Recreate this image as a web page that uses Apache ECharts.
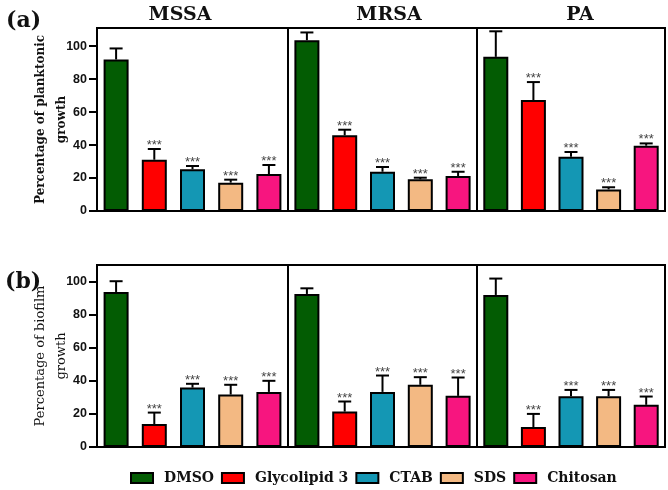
<!DOCTYPE html>
<html>
<head>
<meta charset="utf-8">
<script src="https://cdn.jsdelivr.net/npm/echarts@6/dist/echarts.min.js"></script>
<style>html,body{margin:0;padding:0;background:#fff}#main{width:668px;height:490px}</style>
</head>
<body>
<div id="main"></div>
<script>
// strains (one panel each) and treatments (one bar each)
const groups = ['MSSA', 'MRSA', 'PA'];
const treatments = ['DMSO', 'Glycolipid 3', 'CTAB', 'SDS', 'Chitosan'];
const colors = ['#035c03', '#ff0000', '#1497b4', '#f3b983', '#f7157f'];
const stars = ['', '***', '***', '***', '***'];
const yTicks = [0, 20, 40, 60, 80, 100];

// (a) planktonic growth, mean and SD per strain
const planktonicMean = [[91.9, 31.1, 25.3, 17.2, 22.4], [103.6, 45.9, 23.8, 19.2, 21.2], [93.5, 67.3, 32.9, 13.1, 39.6]];
const planktonicErr = [[6.7, 6.5, 2.0, 1.8, 5.5], [4.7, 3.4, 2.9, 1.0, 2.6], [15.5, 10.9, 2.9, 1.3, 1.4]];
// (b) biofilm growth
const biofilmMean = [[93.7, 13.9, 35.9, 31.7, 33.3], [92.5, 21.4, 33.3, 37.6, 30.9], [91.9, 12.1, 30.7, 30.7, 25.5]];
const biofilmErr = [[6.5, 6.9, 2.3, 5.9, 6.7], [3.4, 6.1, 9.9, 4.6, 11.1], [9.9, 7.9, 3.8, 3.8, 5.0]];

const rows = [
  { mean: planktonicMean, err: planktonicErr, name: 'Percentage of planktonic\ngrowth', bold: true, size: 12, top: 28, height: 183, max: 111 },
  { mean: biofilmMean, err: biofilmErr, name: 'Percentage of biofilm\ngrowth', bold: false, size: 13, top: 265, height: 182, max: 110 }
];
const lefts = [97, 288, 477];
const widths = [191, 189, 188];

const chart = echarts.init(document.getElementById('main'));

let grid = [], xAxis = [], yAxis = [], series = [];

rows.forEach((row, r) => {
  groups.forEach((g, c) => {
    const idx = r * 3 + c;
    grid.push({
      left: lefts[c], top: row.top, width: widths[c], height: row.height,
      show: true, borderColor: '#000', borderWidth: 2, backgroundColor: 'transparent'
    });
    xAxis.push({
      type: 'category', gridIndex: idx, data: treatments,
      axisLabel: { show: false }, axisTick: { show: false }, axisLine: { show: false }
    });
    const first = c === 0;
    yAxis.push({
      type: 'value', gridIndex: idx, min: 0, max: row.max, interval: 20,
      splitLine: { show: false },
      axisLine: { show: first, lineStyle: { color: '#000', width: 2 } },
      axisTick: { show: first, length: 8, lineStyle: { color: '#000', width: 2 }, customValues: yTicks },
      axisLabel: { show: first, customValues: yTicks, color: '#111', fontFamily: 'Liberation Sans', fontWeight: 'bold', fontSize: 12.5, margin: 10 },
      name: first ? row.name : '',
      nameLocation: 'middle', nameGap: 25, nameRotate: 90, nameMoveOverlap: false,
      nameTextStyle: { fontFamily: 'DejaVu Serif', fontWeight: row.bold ? 'bold' : 'normal', fontSize: row.size, color: '#111', lineHeight: 21 }
    });
    treatments.forEach((t, k) => {
      series.push({
        type: 'bar', name: t, xAxisIndex: idx, yAxisIndex: idx, stack: 's' + idx,
        barWidth: 25,
        data: treatments.map((_, j) => j === k ? row.mean[c][k] : '-'),
        itemStyle: { color: colors[k], borderColor: '#000', borderWidth: 2 },
        emphasis: { disabled: true }
      });
    });
    series.push({
      type: 'custom', xAxisIndex: idx, yAxisIndex: idx, z: 5,
      data: row.mean[c].map((v, k) => [k, v, v + row.err[c][k], stars[k]]),
      renderItem: function (params, api) {
        const top = api.coord([api.value(0), api.value(1)]);
        const cap = api.coord([api.value(0), api.value(2)]);
        const x = top[0];
        const children = [
          { type: 'line', shape: { x1: x, y1: top[1], x2: x, y2: cap[1] }, style: { stroke: '#000', lineWidth: 2 } },
          { type: 'line', shape: { x1: x - 6.5, y1: cap[1], x2: x + 6.5, y2: cap[1] }, style: { stroke: '#000', lineWidth: 2 } }
        ];
        const s = api.value(3);
        if (s) {
          children.push({
            type: 'text',
            style: { text: s, x: x, y: cap[1] + 3, textAlign: 'center', textVerticalAlign: 'bottom', fill: '#444', font: '13px "Liberation Sans"' }
          });
        }
        return { type: 'group', children: children };
      }
    });
  });
});

chart.setOption({
  animation: false,
  title: [
    { text: 'MSSA', left: 175, top: 1, textAlign: 'center', textStyle: { fontFamily: 'DejaVu Serif', fontWeight: 'bold', fontSize: 19, color: '#111' } },
    { text: 'MRSA', left: 384, top: 1, textAlign: 'center', textStyle: { fontFamily: 'DejaVu Serif', fontWeight: 'bold', fontSize: 19, color: '#111' } },
    { text: 'PA', left: 575, top: 1, textAlign: 'center', textStyle: { fontFamily: 'DejaVu Serif', fontWeight: 'bold', fontSize: 19, color: '#111' } },
    { text: '(a)', left: 1, top: 5, textStyle: { fontFamily: 'DejaVu Serif', fontWeight: 'bold', fontSize: 22, color: '#111' } },
    { text: '(b)', left: 0, top: 266, textStyle: { fontFamily: 'DejaVu Serif', fontWeight: 'bold', fontSize: 22, color: '#111' } }
  ],
  legend: {
    data: treatments, top: 466, left: 125,
    icon: 'rect', itemWidth: 22, itemHeight: 10, itemGap: 7,
    itemStyle: { borderColor: '#000', borderWidth: 2 },
    textStyle: { fontFamily: 'DejaVu Serif', fontWeight: 'bold', fontSize: 14, color: '#111', padding: [0, 0, 0, 6] },
    selectedMode: false
  },
  grid: grid, xAxis: xAxis, yAxis: yAxis, series: series
});
</script>
</body>
</html>
